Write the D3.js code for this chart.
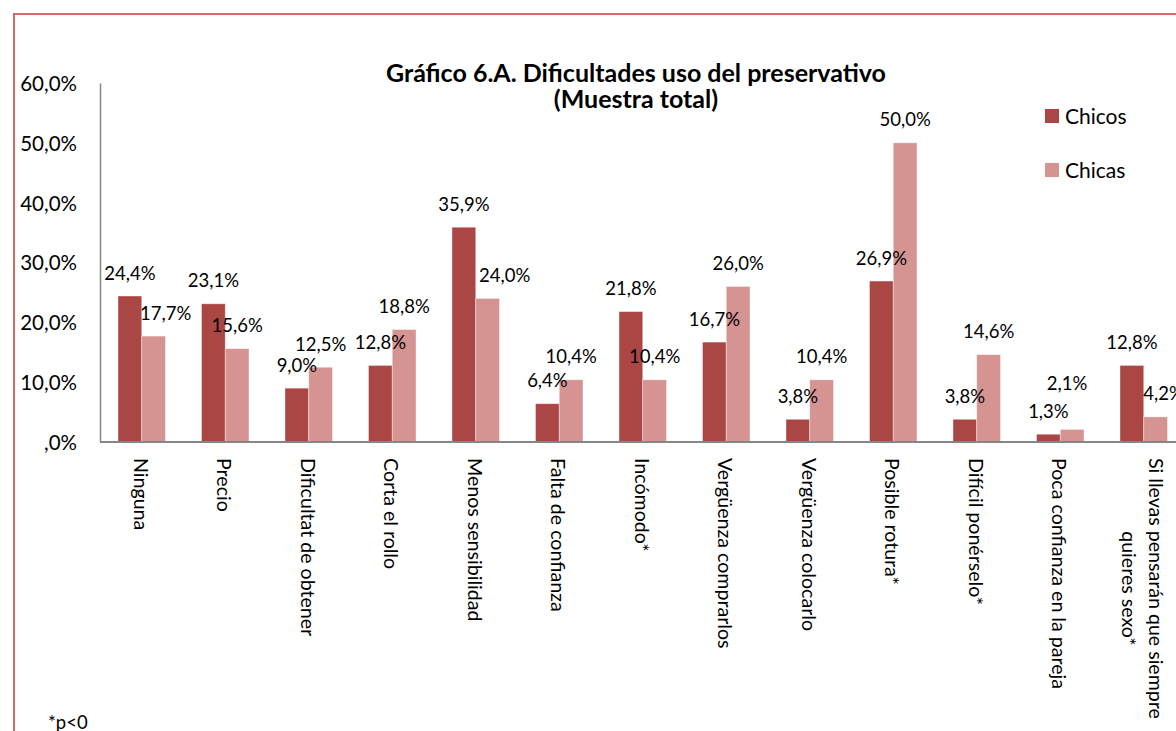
<!DOCTYPE html>
<html lang="es">
<head>
<meta charset="UTF-8">
<script src="https://cdn.jsdelivr.net/npm/d3@7"></script>
<style>
  body { margin: 0; background: #fff; }
  svg text { font-family: Lato, "Open Sans", sans-serif; fill: #000; }
</style>
</head>
<body>
<div id="chart"></div>
<script>
// data
const categories = ["Ninguna", "Precio", "Dificultat de obtener", "Corta el rollo",
  "Menos sensibilidad", "Falta de confianza", "Incómodo*", "Vergüenza comprarlos",
  "Vergüenza colocarlo", "Posible rotura*", "Difícil ponérselo*",
  "Poca confianza en la pareja", "Si llevas pensarán que siempre quieres sexo*"];
const chicos = [24.4, 23.1, 9.0, 12.8, 35.9, 6.4, 21.8, 16.7, 3.8, 26.9, 3.8, 1.3, 12.8];
const chicas = [17.7, 15.6, 12.5, 18.8, 24.0, 10.4, 10.4, 26.0, 10.4, 50.0, 14.6, 2.1, 4.2];
const seriesNames = ["Chicos", "Chicas"];
const yTicks = [0, 10, 20, 30, 40, 50, 60];

let width = 1176;
let height = 731;
let plot = {left: 100, top: 83, bottom: 442, right: 1185.5};

const colors = {Chicos: "#aa4643", Chicas: "#d59391"};

// labels that were dragged by hand in the original
const labelNudge = {"Chicas-0": [12, 0], "Chicas-4": [17, 0], "Chicas-11": [-5, -23], "Chicas-12": [8, 0]};

const locale = d3.formatLocale({decimal: ",", thousands: ".", grouping: [3], currency: ["", " €"]});
const f1 = locale.format(".1f");
const pct = v => f1(v).replace(/^0,/, ",") + "%";

const svg = d3.select("#chart").append("svg")
  .attr("width", width)
  .attr("height", height);

svg.append("rect").attr("width", width).attr("height", height).attr("fill", "#fff");

// outer frame of the chart area
svg.append("path")
  .attr("d", "M14," + (height + 5) + " L14,14 L" + (width + 5) + ",14")
  .attr("fill", "none")
  .attr("stroke", "#d46a6a")
  .attr("stroke-width", 2);

const x = d3.scaleBand()
  .domain(categories)
  .range([plot.left, plot.right])
  .paddingInner(0.431)
  .paddingOuter(0.2155);

const xs = d3.scaleBand()
  .domain(seriesNames)
  .range([0, x.bandwidth()]);

const y = d3.scaleLinear()
  .domain([0, 60])
  .range([plot.bottom, plot.top]);

// y axis
const yAxisG = svg.append("g")
  .attr("transform", "translate(" + plot.left + ",0)")
  .call(d3.axisLeft(y).tickValues(yTicks).tickSize(0).tickPadding(23).tickFormat(pct));
yAxisG.select(".domain").attr("stroke", "#868686").attr("stroke-width", 1.5);
yAxisG.selectAll(".tick text")
  .attr("font-size", "20.5px")
  .attr("dy", "0.36em");

// bars
const rows = categories.map((c, i) => ({cat: c, i: i, Chicos: chicos[i], Chicas: chicas[i]}));

const groups = svg.append("g").selectAll("g")
  .data(rows)
  .join("g")
  .attr("transform", d => "translate(" + x(d.cat) + ",0)");

groups.selectAll("rect")
  .data(d => seriesNames.map(s => ({s: s, v: d[s], i: d.i})))
  .join("rect")
  .attr("x", d => xs(d.s))
  .attr("y", d => y(d.v))
  .attr("width", xs.bandwidth())
  .attr("height", d => y(0) - y(d.v))
  .attr("fill", d => colors[d.s])
  .attr("stroke", "#fff")
  .attr("stroke-opacity", 0.5)
  .attr("stroke-width", 0.8);

// data labels
groups.selectAll("text.val")
  .data(d => seriesNames.map(s => ({s: s, v: d[s], i: d.i})))
  .join("text")
  .attr("class", "val")
  .attr("x", d => xs(d.s) + xs.bandwidth() / 2 + (labelNudge[d.s + "-" + d.i] || [0, 0])[0])
  .attr("y", d => y(d.v) - 16.5 + (labelNudge[d.s + "-" + d.i] || [0, 0])[1])
  .attr("text-anchor", "middle")
  .attr("font-size", "18.5px")
  .text(d => pct(d.v));

// x axis line
svg.append("line")
  .attr("x1", plot.left).attr("x2", width)
  .attr("y1", plot.bottom).attr("y2", plot.bottom)
  .attr("stroke", "#868686")
  .attr("stroke-width", 2);

// rotated category labels, wrapped if too long
const maxLen = 285;
const catLabels = svg.append("g").selectAll("text")
  .data(categories)
  .join("text")
  .attr("font-size", "19.6px")
  .attr("dominant-baseline", "central")
  .attr("transform", d => "translate(" + (x(d) + x.bandwidth() / 2) + ",458) rotate(90)");

catLabels.each(function(d) {
  const t = d3.select(this);
  const words = d.split(" ");
  let lines = [];
  let cur = [];
  const probe = t.append("tspan");
  words.forEach(w => {
    probe.text(cur.concat([w]).join(" "));
    if (cur.length && probe.node().getComputedTextLength() > maxLen) {
      lines.push(cur.join(" "));
      cur = [w];
    } else {
      cur.push(w);
    }
  });
  lines.push(cur.join(" "));
  probe.text(lines[0]);
  const firstLen = probe.node().getComputedTextLength();
  probe.remove();
  if (lines.length === 1) {
    t.append("tspan").attr("x", 0).attr("y", 0).text(lines[0]);
  } else {
    const gap = 27;
    lines.forEach((ln, k) => {
      t.append("tspan")
        .attr("x", firstLen / 2)
        .attr("y", -gap * ((lines.length - 1) / 2 - k))
        .attr("text-anchor", "middle")
        .text(ln);
    });
  }
});

// title
svg.append("text")
  .attr("x", 636).attr("y", 82)
  .attr("text-anchor", "middle")
  .attr("font-size", "25px")
  .attr("font-weight", "bold")
  .text("Gráfico 6.A. Dificultades uso del preservativo");
svg.append("text")
  .attr("x", 636).attr("y", 108)
  .attr("text-anchor", "middle")
  .attr("font-size", "25px")
  .attr("font-weight", "bold")
  .text("(Muestra total)");

// legend
const legend = svg.append("g").selectAll("g")
  .data(seriesNames)
  .join("g")
  .attr("transform", (d, i) => "translate(1045," + (109 + i * 54) + ")");
legend.append("rect")
  .attr("width", 14).attr("height", 14)
  .attr("fill", d => colors[d]);
legend.append("text")
  .attr("x", 20).attr("y", 7)
  .attr("dy", "0.36em")
  .attr("font-size", "21px")
  .text(d => d);

// footnote
svg.append("text")
  .attr("x", 48).attr("y", 729)
  .attr("font-size", "18.5px")
  .text("*p<0");
</script>
</body>
</html>
